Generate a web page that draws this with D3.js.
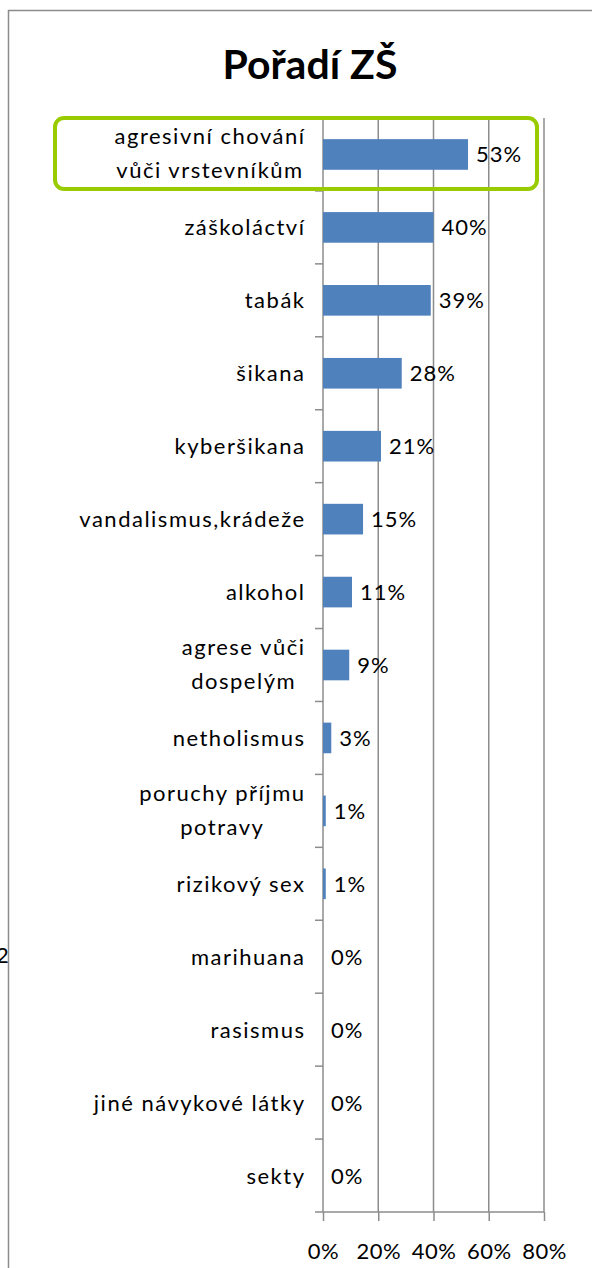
<!DOCTYPE html>
<html>
<head>
<meta charset="utf-8">
<script src="https://cdn.jsdelivr.net/npm/d3@7"></script>
<style>
  body { margin: 0; background: #fff; }
  svg text { font-family: Lato, "Open Sans", sans-serif; fill: #000; }
</style>
</head>
<body>
<div id="chart"></div>
<script>
// data
var categories = [
  ["agresivní chování", "vůči vrstevníkům"],
  ["záškoláctví"],
  ["tabák"],
  ["šikana"],
  ["kyberšikana"],
  ["vandalismus,krádeže"],
  ["alkohol"],
  ["agrese vůči", "dospelým"],
  ["netholismus"],
  ["poruchy příjmu", "potravy"],
  ["rizikový sex"],
  ["marihuana"],
  ["rasismus"],
  ["jiné návykové látky"],
  ["sekty"]
];
var values = [0.525, 0.40, 0.39, 0.285, 0.21, 0.145, 0.105, 0.095, 0.03, 0.01, 0.01, 0, 0, 0, 0];
var valueLabels = ["53%", "40%", "39%", "28%", "21%", "15%", "11%", "9%", "3%", "1%", "1%", "0%", "0%", "0%", "0%"];
var xTicks = [0, 0.2, 0.4, 0.6, 0.8];

var W = 592, H = 1268;
var svg = d3.select("#chart").append("svg")
  .attr("width", W)
  .attr("height", H);

var plot = { left: 323, right: 544, top: 118, bottom: 1212 };

var x = d3.scaleLinear().domain([0, 0.8]).range([plot.left, plot.right]);
var y = d3.scaleBand()
  .domain(d3.range(categories.length))
  .range([plot.top, plot.bottom])
  .paddingInner(0.58)
  .paddingOuter(0.29);
var yOuter = d3.scaleBand()
  .domain(d3.range(categories.length))
  .range([plot.top, plot.bottom]);

// outer frame (only top and left edges visible)
svg.append("line")
  .attr("x1", 8).attr("x2", W).attr("y1", 10.5).attr("y2", 10.5)
  .attr("stroke", "#8c8c8c").attr("stroke-width", 1.5);
svg.append("line")
  .attr("x1", 8.5).attr("x2", 8.5).attr("y1", 10).attr("y2", H)
  .attr("stroke", "#8c8c8c").attr("stroke-width", 1.5);

// stray cut-off character left of the frame
svg.append("clipPath").attr("id", "leftclip")
  .append("rect").attr("x", 0).attr("y", 0).attr("width", 8).attr("height", H);
svg.append("text")
  .attr("clip-path", "url(#leftclip)")
  .attr("x", -4).attr("y", 963)
  .style("font-size", "22px")
  .text("2");

// title
svg.append("text")
  .attr("x", 310).attr("y", 79)
  .attr("text-anchor", "middle")
  .style("font-size", "41px")
  .style("font-weight", "bold")
  .text("Pořadí ZŠ");

// vertical gridlines
svg.append("g").selectAll("line")
  .data(xTicks.slice(1))
  .join("line")
  .attr("x1", d => x(d)).attr("x2", d => x(d))
  .attr("y1", plot.top).attr("y2", plot.bottom)
  .attr("stroke", "#8c8c8c").attr("stroke-width", 1.5);

// x axis
var xAxis = svg.append("g")
  .attr("transform", "translate(0," + plot.bottom + ")")
  .call(d3.axisBottom(x).tickValues(xTicks).tickSize(9).tickPadding(22)
    .tickFormat(d3.format(".0%")).tickSizeOuter(0));
xAxis.select(".domain").remove();
xAxis.append("line")
  .attr("x1", plot.left - 8).attr("x2", plot.right)
  .attr("stroke", "#8c8c8c").attr("stroke-width", 1.5);
xAxis.selectAll(".tick line").attr("stroke", "#8c8c8c").attr("stroke-width", 1.5);
xAxis.selectAll(".tick text")
  .style("font-family", "Lato, sans-serif")
  .style("font-size", "22px")
  .style("letter-spacing", "0.5px")
  .attr("fill", "#000");

// y axis line and ticks at band boundaries
svg.append("line")
  .attr("x1", plot.left).attr("x2", plot.left)
  .attr("y1", plot.top).attr("y2", plot.bottom)
  .attr("stroke", "#8c8c8c").attr("stroke-width", 1.5);
svg.append("g").selectAll("line")
  .data(d3.range(1, categories.length))
  .join("line")
  .attr("x1", plot.left - 8).attr("x2", plot.left)
  .attr("y1", d => yOuter(d)).attr("y2", d => yOuter(d))
  .attr("stroke", "#8c8c8c").attr("stroke-width", 1.5);

// bars
svg.append("g").selectAll("rect")
  .data(values)
  .join("rect")
  .attr("x", x(0))
  .attr("y", (d, i) => y(i))
  .attr("width", d => x(d) - x(0))
  .attr("height", y.bandwidth())
  .attr("fill", "#4f81bd");

// value labels
svg.append("g").selectAll("text")
  .data(values)
  .join("text")
  .attr("x", d => x(d) + 8)
  .attr("y", (d, i) => y(i) + y.bandwidth() / 2 + 8)
  .style("font-size", "22px")
  .style("letter-spacing", "1px")
  .text((d, i) => valueLabels[i]);

// category labels (multi-line labels centred within their block)
var labelRight = 304;
categories.forEach(function(lines, i) {
  var cy = yOuter(i) + yOuter.bandwidth() / 2;
  var g = svg.append("g");
  var texts = lines.map(function(t, j) {
    var base = lines.length == 1 ? cy + 8 : cy - 10 + j * 34;
    return g.append("text")
      .attr("y", base)
      .attr("text-anchor", "start")
      .style("font-size", "22px")
      .style("letter-spacing", "1.5px")
      .text(t);
  });
  var widths = texts.map(t => t.node().getComputedTextLength() - 1.5);
  var maxW = d3.max(widths);
  texts.forEach((t, j) => t.attr("x", labelRight - maxW + (maxW - widths[j]) / 2));
});

// green highlight box round the first category
svg.append("rect")
  .attr("x", 55).attr("y", 118)
  .attr("width", 482).attr("height", 71)
  .attr("rx", 9).attr("ry", 9)
  .attr("fill", "none")
  .attr("stroke", "#99cc00")
  .attr("stroke-width", 4);
</script>
</body>
</html>
